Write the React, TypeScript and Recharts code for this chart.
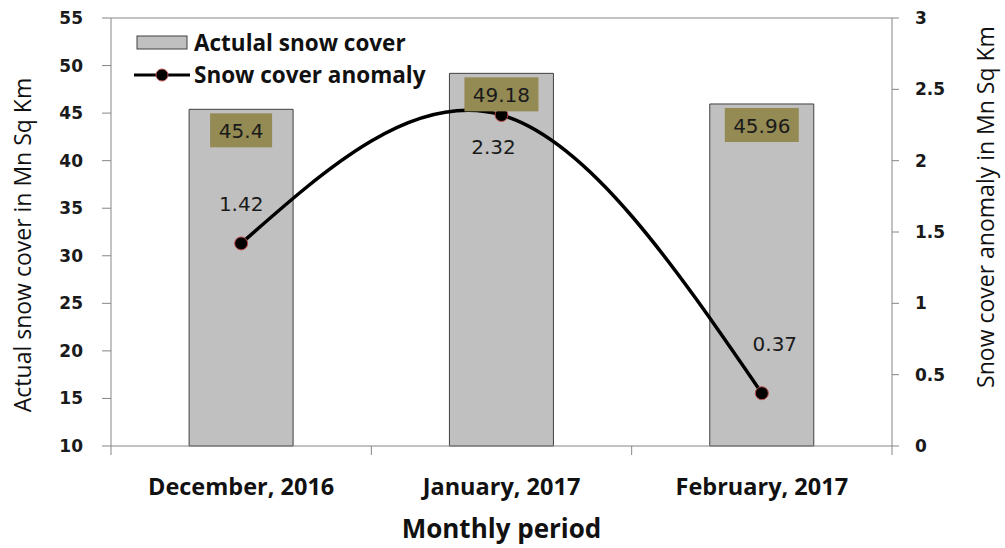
import React from 'react'
import { ComposedChart, Bar, Line, XAxis, YAxis, Legend, LabelList, ReferenceLine } from 'recharts'

const months = ['December, 2016', 'January, 2017', 'February, 2017']
const snowCover = [45.4, 49.18, 45.96]
const anomaly = [1.42, 2.32, 0.37]
const leftTicks = [10, 15, 20, 25, 30, 35, 40, 45, 50, 55]
const rightTicks = [0, 0.5, 1, 1.5, 2, 2.5, 3]

// where each anomaly label sits relative to its point
const anomalyLabelOffsets = [
  { dx: 0, dy: -39 },
  { dx: -8, dy: 32 },
  { dx: 13, dy: -49 },
]

const data = months.map((month, i) => ({
  month,
  snowCover: snowCover[i],
  anomaly: anomaly[i],
}))

const AXIS_GRAY = '#868686'
const numFont = { fontFamily: 'DejaVu Sans', fontWeight: 'bold' as const, fontSize: 17, fill: '#1a1a1a' }
const textFont = 'Open Sans'
const X_TICK_GAP = 32

const BarValueLabel = (props: any) => {
  const { x, y, width, value } = props
  const cx = Number(x) + Number(width) / 2
  const text = String(value)
  const boxW = text.length * 12 + 14
  return (
    <g>
      <rect x={cx - boxW / 2} y={Number(y) + 4} width={boxW} height={34} fill="#948a54" />
      <text
        x={cx}
        y={Number(y) + 22}
        textAnchor="middle"
        dominantBaseline="central"
        style={{ ...numFont, fontWeight: 'normal', fontSize: 20 }}
      >
        {text}
      </text>
    </g>
  )
}

const AnomalyLabel = (props: any) => {
  const { x, y, value, index } = props
  const off = anomalyLabelOffsets[index] || { dx: 0, dy: -30 }
  return (
    <text
      x={Number(x) + off.dx}
      y={Number(y) + off.dy}
      textAnchor="middle"
      dominantBaseline="central"
      style={{ ...numFont, fontWeight: 'normal', fontSize: 20 }}
    >
      {value}
    </text>
  )
}

// category label plus the tick marks on the category boundaries
const MonthTick = (props: any) => {
  const { x, y, payload, index, width, visibleTicksCount } = props
  const count = visibleTicksCount || months.length
  const band = Number(width) / count
  const axisY = Number(y) - X_TICK_GAP
  const left = Number(x) - band / 2
  return (
    <g>
      <line x1={left} y1={axisY} x2={left} y2={axisY + 9} stroke={AXIS_GRAY} />
      {index === count - 1 && (
        <line x1={left + band} y1={axisY} x2={left + band} y2={axisY + 9} stroke={AXIS_GRAY} />
      )}
      <text
        x={x}
        y={y}
        dy="0.71em"
        textAnchor="middle"
        style={{ fontFamily: textFont, fontWeight: 700, fontSize: 23.5, fill: '#111' }}
      >
        {payload.value}
      </text>
    </g>
  )
}

const LegendBox = () => (
  <div style={{ fontFamily: textFont, fontWeight: 700, fontSize: 22.5, color: '#111', lineHeight: '32px' }}>
    <div style={{ display: 'flex', alignItems: 'center' }}>
      <svg width={62} height={20}>
        <rect x={5} y={3} width={50} height={13} fill="#c0c0c0" stroke="#404040" strokeWidth={1} />
      </svg>
      <span>Actulal snow cover</span>
    </div>
    <div style={{ display: 'flex', alignItems: 'center' }}>
      <svg width={62} height={20}>
        <line x1={2} y1={10} x2={58} y2={10} stroke="#000" strokeWidth={3} />
        <circle cx={30} cy={10} r={6} fill="#000" stroke="#c0504d" strokeWidth={1} />
      </svg>
      <span>Snow cover anomaly</span>
    </div>
  </div>
)

export default function App() {
  return (
    <div style={{ position: 'absolute', left: 0, top: 0, width: 1005, height: 548, background: '#fff' }}>
      <ComposedChart
        width={1005}
        height={548}
        data={data}
        margin={{ top: 18, right: 43, bottom: 42, left: 50 }}
        barCategoryGap="30%"
      >
        <XAxis
          xAxisId="cat"
          dataKey="month"
          tickLine={false}
          tickSize={0}
          tickMargin={X_TICK_GAP}
          axisLine={{ stroke: AXIS_GRAY }}
          tick={<MonthTick />}
          height={60}
          label={{
            content: (p: any) => {
              const vb = p.viewBox || {}
              return (
                <text
                  x={vb.x + vb.width / 2}
                  y={vb.y + 82}
                  textAnchor="middle"
                  dominantBaseline="central"
                  style={{ fontFamily: textFont, fontWeight: 700, fontSize: 26, fill: '#111' }}
                >
                  Monthly period
                </text>
              )
            },
          }}
        />
        <YAxis
          yAxisId="left"
          domain={[10, 55]}
          ticks={leftTicks}
          interval={0}
          width={61}
          tickSize={9}
          tickMargin={19}
          stroke={AXIS_GRAY}
          tick={numFont}
          label={{
            content: (p: any) => {
              const vb = p.viewBox || {}
              const x = vb.x - 28
              const y = vb.y + vb.height / 2 + 13
              return (
                <text
                  x={x}
                  y={y}
                  transform={`rotate(-90 ${x} ${y})`}
                  textAnchor="middle"
                  dominantBaseline="central"
                  style={{ fontFamily: textFont, fontSize: 23, fill: '#111' }}
                >
                  Actual snow cover in Mn Sq Km
                </text>
              )
            },
          }}
        />
        <YAxis
          yAxisId="right"
          orientation="right"
          domain={[0, 3]}
          ticks={rightTicks}
          interval={0}
          width={70}
          tickSize={7}
          tickMargin={16}
          stroke={AXIS_GRAY}
          tick={{ ...numFont, textAnchor: 'start' }}
          label={{
            content: (p: any) => {
              const vb = p.viewBox || {}
              const x = vb.x + 93
              const y = vb.y + vb.height / 2 - 25
              return (
                <text
                  x={x}
                  y={y}
                  transform={`rotate(-90 ${x} ${y})`}
                  textAnchor="middle"
                  dominantBaseline="central"
                  style={{ fontFamily: textFont, fontSize: 23, fill: '#111' }}
                >
                  Snow cover anomaly in Mn Sq Km
                </text>
              )
            },
          }}
        />
        <ReferenceLine yAxisId="left" xAxisId="cat" y={55} stroke={AXIS_GRAY} />
        <Legend
          layout="horizontal"
          verticalAlign="middle"
          content={() => <LegendBox />}
          wrapperStyle={{ left: 132, top: 27, width: 400, height: 70 }}
        />
        <Bar
          xAxisId="cat"
          yAxisId="left"
          dataKey="snowCover"
          name="Actulal snow cover"
          fill="#c0c0c0"
          stroke="#404040"
          strokeWidth={1}
          isAnimationActive={false}
        >
          <LabelList dataKey="snowCover" content={BarValueLabel} />
        </Bar>
        <Line
          xAxisId="cat"
          yAxisId="right"
          type="natural"
          dataKey="anomaly"
          name="Snow cover anomaly"
          stroke="#000"
          strokeWidth={3.5}
          dot={{ r: 6.5, fill: '#000', stroke: '#c0504d', strokeWidth: 1 }}
          activeDot={false}
          isAnimationActive={false}
        >
          <LabelList dataKey="anomaly" content={AnomalyLabel} />
        </Line>
      </ComposedChart>
    </div>
  )
}
